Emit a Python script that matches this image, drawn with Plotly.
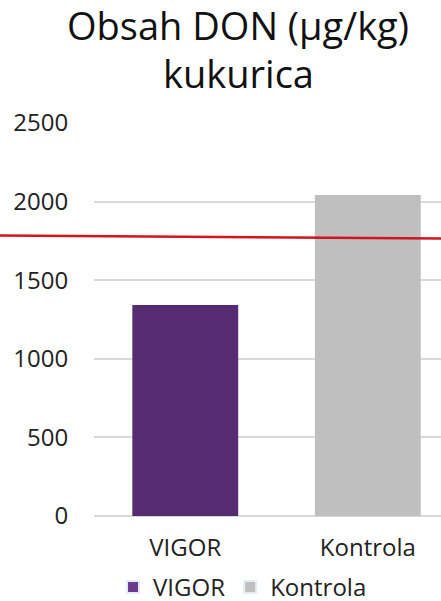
import plotly.graph_objects as go

categories = ["VIGOR", "Kontrola"]
don_values = [1342, 2042]
bar_colors = ["#552B72", "#BFBFBF"]
legend_colors = ["#6A3A91", "#BFBFBF"]
limit_start = 1785
limit_end = 1765
y_ticks = [0, 500, 1000, 1500, 2000, 2500]
title_line1 = "Obsah DON (µg/kg)"
title_line2 = "kukurica"

FONT = "Open Sans"

fig = go.Figure()
for cat, val, col, lcol in zip(categories, don_values, bar_colors, legend_colors):
    fig.add_trace(go.Bar(
        name=cat, x=[cat], y=[val],
        marker=dict(color=col, line=dict(width=0)),
        width=0.58, offset=-0.29,
        showlegend=False,
    ))
    # legend-only entry with the lighter swatch colour
    fig.add_trace(go.Bar(
        name=cat, x=[None], y=[None],
        marker=dict(color=lcol), showlegend=True,
    ))

# red limit line running across the whole width
fig.add_shape(type="line", xref="paper", yref="y",
              x0=-94 / 347, x1=1, y0=limit_start, y1=limit_end,
              line=dict(color="#D2141C", width=2.5))

# second title line, tighter line spacing than plotly's own <br>
fig.add_annotation(
    text=title_line2, xref="paper", yref="paper",
    x=(238 - 94) / 347, y=1 + (123 - 101) / 393,
    xanchor="center", yanchor="bottom", showarrow=False,
    font=dict(family=FONT, size=38, color="#111111"),
)

fig.update_layout(
    width=441, height=601,
    margin=dict(l=94, r=0, t=123, b=85, autoexpand=False),
    paper_bgcolor="white", plot_bgcolor="white",
    barmode="overlay",
    font=dict(family=FONT, color="#222222", size=20),
    title=dict(
        text=title_line1,
        x=238 / 441, xanchor="center", xref="container",
        y=1 - 40 / 601, yanchor="bottom", yref="container",
        font=dict(family=FONT, size=38, color="#111111"),
    ),
    xaxis=dict(
        range=[-0.5, 1.401], showgrid=False, showline=False,
        automargin=False,
        ticks="outside", ticklen=10, tickcolor="rgba(0,0,0,0)",
        tickfont=dict(size=24, color="#222222"),
        categoryorder="array", categoryarray=categories,
    ),
    yaxis=dict(
        range=[0, 2500], tickvals=y_ticks, showgrid=True,
        automargin=False,
        gridcolor="#D9D9D9", gridwidth=1.5, zeroline=True,
        zerolinecolor="#D9D9D9", zerolinewidth=1.5,
        ticks="outside", ticklen=20, tickcolor="rgba(0,0,0,0)",
        tickfont=dict(size=24, color="#222222"),
    ),
    legend=dict(
        orientation="h", x=0.55, xanchor="center", xref="container",
        y=-(601 - 516 + 9) / 393, yanchor="bottom", yref="paper",
        bgcolor="rgba(0,0,0,0)",
        font=dict(size=24, color="#222222"), traceorder="normal",
        itemsizing="constant",
    ),
)

# the page's default body margin would push the figure 8px off
fig.write_html("out.html", config={"displayModeBar": False},
               post_script="document.body.style.margin='0';")
